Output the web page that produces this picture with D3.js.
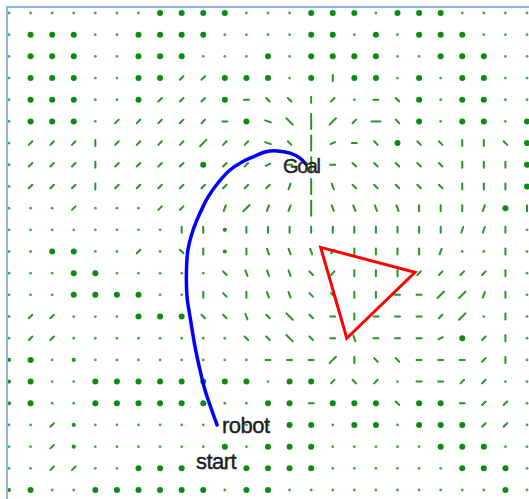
<!DOCTYPE html>
<html>
<head>
<meta charset="utf-8">
<script src="https://cdn.jsdelivr.net/npm/d3@7"></script>
<style>
  html, body { margin: 0; padding: 0; background: #fff; }
  svg { display: block; }
</style>
</head>
<body>
<svg id="chart" width="529" height="499"></svg>
<script>
// ---------- DATA ----------
// Quiver field on a 25 x 23 grid, one string per row (top row first).
// O big dot, o medium dot, . small dot; segments: - y / r | l \ w ; long: I F B H
const fieldRows = [
  ". . . . . . . O O O O . . . O O O . O O O . . . .",
  ". O O O . . O O O O . . . . O O . O . O O O . . .",
  ". O O O . . O O O . . . O . O O O O . . O O O . .",
  ". O O O . . O O / / O O O . O | O O . O . O O . .",
  ". O O O . . O / / / O - \\ \\ | / . - \\ O . O O . .",
  ". O O O . / / / / / - O w B I F / H \\ O . O O . O",
  ". / / / | / / / / F / / w \\ I y - \\ O \\ \\ | | \\ O",
  ". / / / | / / / / O / / y - I - \\ \\ \\ \\ \\ | | | O",
  ". / / / | / / / / / / / / r I l \\ \\ \\ \\ \\ | | | O",
  ". . . / . . . / / r r F r r I l l l l | | | r O |",
  ". . . . . . . . | | o | | | | | | | | | | r r | .",
  ". . O O . . / . \\ | o | l l l / | | | | r . . | .",
  ". . . O O . . . . . \\ l l l \\ / | | | / / / / | .",
  ". . . O O O O . . | \\ | l l \\ \\ | | - - F F r | .",
  ". / / . . . O O O \\ \\ l \\ B \\ - | - - - / F . | .",
  ". / / . . . . . . . . \\ \\ B \\ - l - - - y O / | .",
  "o O . o . . . . . . . . - - - F | \\ \\ - - - / | .",
  "o O . . O O O O O O O O . O O / \\ / . - - / / . .",
  "o O . . O O O O O O . . O O - O O O \\ O O - / / .",
  ". . / o . . . . . . . . . O O . O O . O O O / / .",
  ". . / o . . . . . . O . O O O . . . . . O O O . .",
  ". . / / . . O O O . . O O O O . . . . . . O O O .",
  "o O . . O O O O O O . O O . . . . . . . . . . O ."
];

// Robot path (grid units, x right, y up)
const pathX = [9.64, 9.31, 9.08, 8.85, 8.62, 8.39, 8.25, 8.22, 8.29, 8.53, 8.85, 9.22, 9.68, 10.24, 10.80, 11.40, 11.86, 12.42, 13.02, 13.48, 13.76];
const pathY = [3.00, 3.92, 4.61, 5.53, 6.60, 7.98, 8.90, 10.01, 11.07, 11.99, 12.78, 13.51, 14.16, 14.76, 15.13, 15.40, 15.59, 15.64, 15.54, 15.31, 15.03];

// Triangle obstacle vertices
const obstacleX = [14.44, 18.81, 15.65];
const obstacleY = [11.19, 10.04, 7.00];

// Labels
const labelText = ["Goal", "robot", "start"];
const labelX = [12.70, 9.87, 8.66];
const labelY = [14.61, 2.63, 0.97];

// ---------- STYLE ----------
const glyphStyle = {
  "O": { dot: 3.0, fill: "#0b8c10" },
  "o": { dot: 2.1, fill: "#1f951f" },
  ".": { dot: 1.4, fill: "#4aa64a" },
  "-": { ang: 0, len: 5 },
  "y": { ang: -25, len: 5 },
  "/": { ang: -45, len: 5 },
  "r": { ang: -70, len: 6 },
  "|": { ang: 90, len: 6 },
  "l": { ang: 70, len: 6 },
  "\\": { ang: 45, len: 5 },
  "w": { ang: 20, len: 6 },
  "I": { ang: 90, len: 15 },
  "F": { ang: -45, len: 9 },
  "B": { ang: 45, len: 9 },
  "H": { ang: 0, len: 9 }
};

const W = 529, H = 499;
const nCols = 25, nRows = fieldRows.length;
const x = d3.scaleLinear().domain([0, nCols - 1]).range([9, 527]);
const y = d3.scaleLinear().domain([0, nRows - 1]).range([490, 13]);

const svg = d3.select("#chart");
svg.append("rect").attr("width", W).attr("height", H).attr("fill", "#fff");

// field cells
const cells = [];
fieldRows.forEach((row, r) => {
  row.split(" ").forEach((code, c) => {
    cells.push({ c: c, v: nRows - 1 - r, code: code });
  });
});

const gField = svg.append("g");
cells.forEach(d => {
  const s = glyphStyle[d.code];
  const cx = x(d.c), cy = y(d.v);
  if (s.dot !== undefined) {
    gField.append("circle").attr("cx", cx).attr("cy", cy).attr("r", s.dot).attr("fill", s.fill);
  } else {
    const a = s.ang * Math.PI / 180, h = s.len / 2;
    gField.append("line")
      .attr("x1", cx - h * Math.cos(a)).attr("y1", cy - h * Math.sin(a))
      .attr("x2", cx + h * Math.cos(a)).attr("y2", cy + h * Math.sin(a))
      .attr("stroke", "#259525").attr("stroke-width", 2).attr("stroke-linecap", "round");
  }
});

// robot path
const line = d3.line().x(i => x(pathX[i])).y(i => y(pathY[i])).curve(d3.curveCatmullRom);
svg.append("path").datum(d3.range(pathX.length)).attr("d", line)
  .attr("fill", "none").attr("stroke", "#0000ff").attr("stroke-width", 3.5)
  .attr("stroke-linecap", "round").attr("stroke-linejoin", "round");

// obstacle
svg.append("polygon")
  .attr("points", obstacleX.map((v, i) => x(v) + "," + y(obstacleY[i])).join(" "))
  .attr("fill", "none").attr("stroke", "#ff0000").attr("stroke-width", 3)
  .attr("stroke-linejoin", "miter");

// labels
const fontSizes = [20, 22, 22];
labelText.forEach((t, i) => {
  svg.append("text").attr("x", x(labelX[i])).attr("y", y(labelY[i]))
    .attr("font-family", "'Liberation Sans', Arial, sans-serif")
    .attr("font-size", fontSizes[i])
    .attr("letter-spacing", i === 0 ? -1.5 : -0.5)
    .attr("fill", "#1e1e1e")
    .attr("stroke", "#1e1e1e").attr("stroke-width", 0.4)
    .text(t);
});

// frame
svg.append("path").attr("d", "M7,499 L7,7 L529,7")
  .attr("fill", "none").attr("stroke", "#8db4e6").attr("stroke-width", 2);
</script>
</body>
</html>
